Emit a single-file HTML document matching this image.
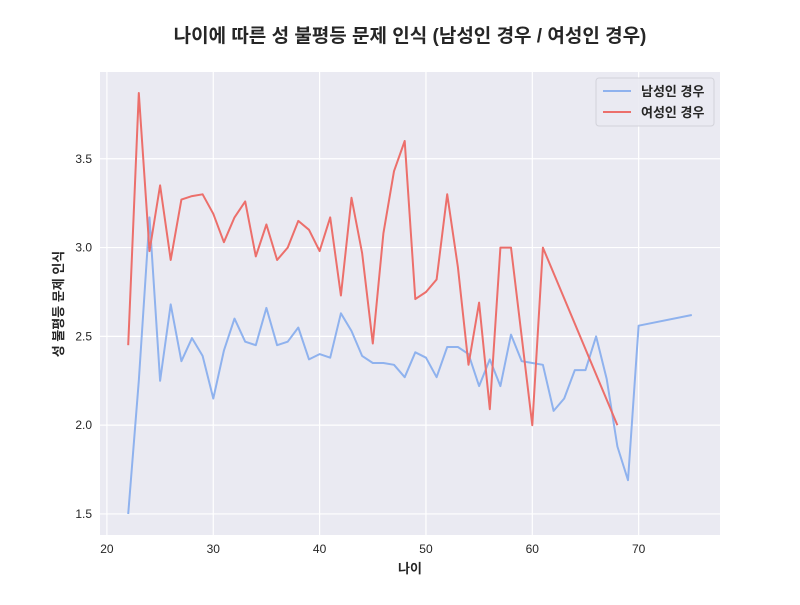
<!DOCTYPE html>
<html><head><meta charset="utf-8"><style>
body{margin:0;background:#fff;}
svg text{font-family:"Liberation Sans","Noto Sans CJK KR",sans-serif;}
</style></head><body>
<svg id="chart" width="800" height="600" xmlns="http://www.w3.org/2000/svg">
<text x="410" y="42" text-anchor="middle" font-size="19" font-weight="bold" fill="#262626">나이에 따른 성 불평등 문제 인식 (남성인 경우 / 여성인 경우)</text>
<rect x="100" y="72" width="620" height="463" fill="#eaeaf2"/>
<g id="grid"></g>
<g id="series"></g>
<g id="ticks"></g>
<text x="410" y="573" text-anchor="middle" font-size="13" font-weight="bold" fill="#262626">나이</text>
<text transform="translate(63,304) rotate(-90)" text-anchor="middle" font-size="13" font-weight="bold" fill="#262626">성 불평등 문제 인식</text>
<g>
<rect x="596" y="78" width="118" height="48" rx="3" fill="#eaeaf2" stroke="#d0d0d8" opacity="0.9"/>
<line x1="603" y1="91" x2="631" y2="91" stroke="#8fb2ee" stroke-width="2"/>
<text x="641" y="96" font-size="13" font-weight="bold" fill="#262626">남성인 경우</text>
<line x1="603" y1="112" x2="631" y2="112" stroke="#ec6f6b" stroke-width="2"/>
<text x="641" y="117" font-size="13" font-weight="bold" fill="#262626">여성인 경우</text>
</g>
</svg>
<script>
const maleAges=[22,23,24,25,26,27,28,29,30,31,32,33,34,35,36,37,38,39,40,41,42,43,44,45,46,47,48,49,50,51,52,53,54,55,56,57,58,59,60,61,62,63,64,65,66,67,68,69,70,75];
const maleValues=[1.50,2.25,3.17,2.25,2.68,2.36,2.49,2.39,2.15,2.42,2.60,2.47,2.45,2.66,2.45,2.47,2.55,2.37,2.40,2.38,2.63,2.53,2.39,2.35,2.35,2.34,2.27,2.41,2.38,2.27,2.44,2.44,2.40,2.22,2.37,2.22,2.51,2.36,2.35,2.34,2.08,2.15,2.31,2.31,2.50,2.26,1.88,1.69,2.56,2.62];
const femaleAges=[22,23,24,25,26,27,28,29,30,31,32,33,34,35,36,37,38,39,40,41,42,43,44,45,46,47,48,49,50,51,52,53,54,55,56,57,58,60,61,68];
const femaleValues=[2.45,3.87,2.98,3.35,2.93,3.27,3.29,3.30,3.19,3.03,3.17,3.26,2.95,3.13,2.93,3.00,3.15,3.10,2.98,3.17,2.73,3.28,2.97,2.46,3.08,3.43,3.60,2.71,2.75,2.82,3.30,2.89,2.34,2.69,2.09,3.00,3.00,2.00,3.00,2.00];
const xTicks=[20,30,40,50,60,70];
const yTicks=[1.5,2.0,2.5,3.0,3.5];
const NS="http://www.w3.org/2000/svg";
const X0=100,X1=720,Y0=72,Y1=535;
const xmin=19.35,xmax=77.65,ymin=1.3815,ymax=3.9885;
function sx(v){return X0+(v-xmin)/(xmax-xmin)*(X1-X0);}
function sy(v){return Y1-(v-ymin)/(ymax-ymin)*(Y1-Y0);}
function mk(tag,attrs,parent){const e=document.createElementNS(NS,tag);for(const k in attrs)e.setAttribute(k,attrs[k]);parent.appendChild(e);return e;}
const grid=document.getElementById('grid'),ticks=document.getElementById('ticks'),series=document.getElementById('series');
xTicks.forEach(t=>{
 const l=mk('line',{x1:sx(t),x2:sx(t),y1:Y0,y2:Y1,stroke:'#fff','stroke-width':1.2},grid);
 
 
 const tx=mk('text',{x:sx(t),y:Y1+18,'text-anchor':'middle','font-size':12,fill:'#262626'},ticks);
 tx.textContent=t;
 
 
});
yTicks.forEach(t=>{
 const l=mk('line',{x1:X0,x2:X1,y1:sy(t),y2:sy(t),stroke:'#fff','stroke-width':1.2},grid);
 
 
 const tx=mk('text',{x:X0-8,y:sy(t)+4,'text-anchor':'end','font-size':12,fill:'#262626'},ticks);
 tx.textContent=t.toFixed(1);
 
 
});
function pts(a,v){return a.map((x,i)=>sx(x).toFixed(1)+','+sy(v[i]).toFixed(1)).join(' ');}
const m=mk('polyline',{points:pts(maleAges,maleValues),fill:'none',stroke:'#8fb2ee','stroke-width':2,'stroke-linejoin':'round'},series);


const f=mk('polyline',{points:pts(femaleAges,femaleValues),fill:'none',stroke:'#ec6f6b','stroke-width':2,'stroke-linejoin':'round'},series);


</script>
</body></html>
